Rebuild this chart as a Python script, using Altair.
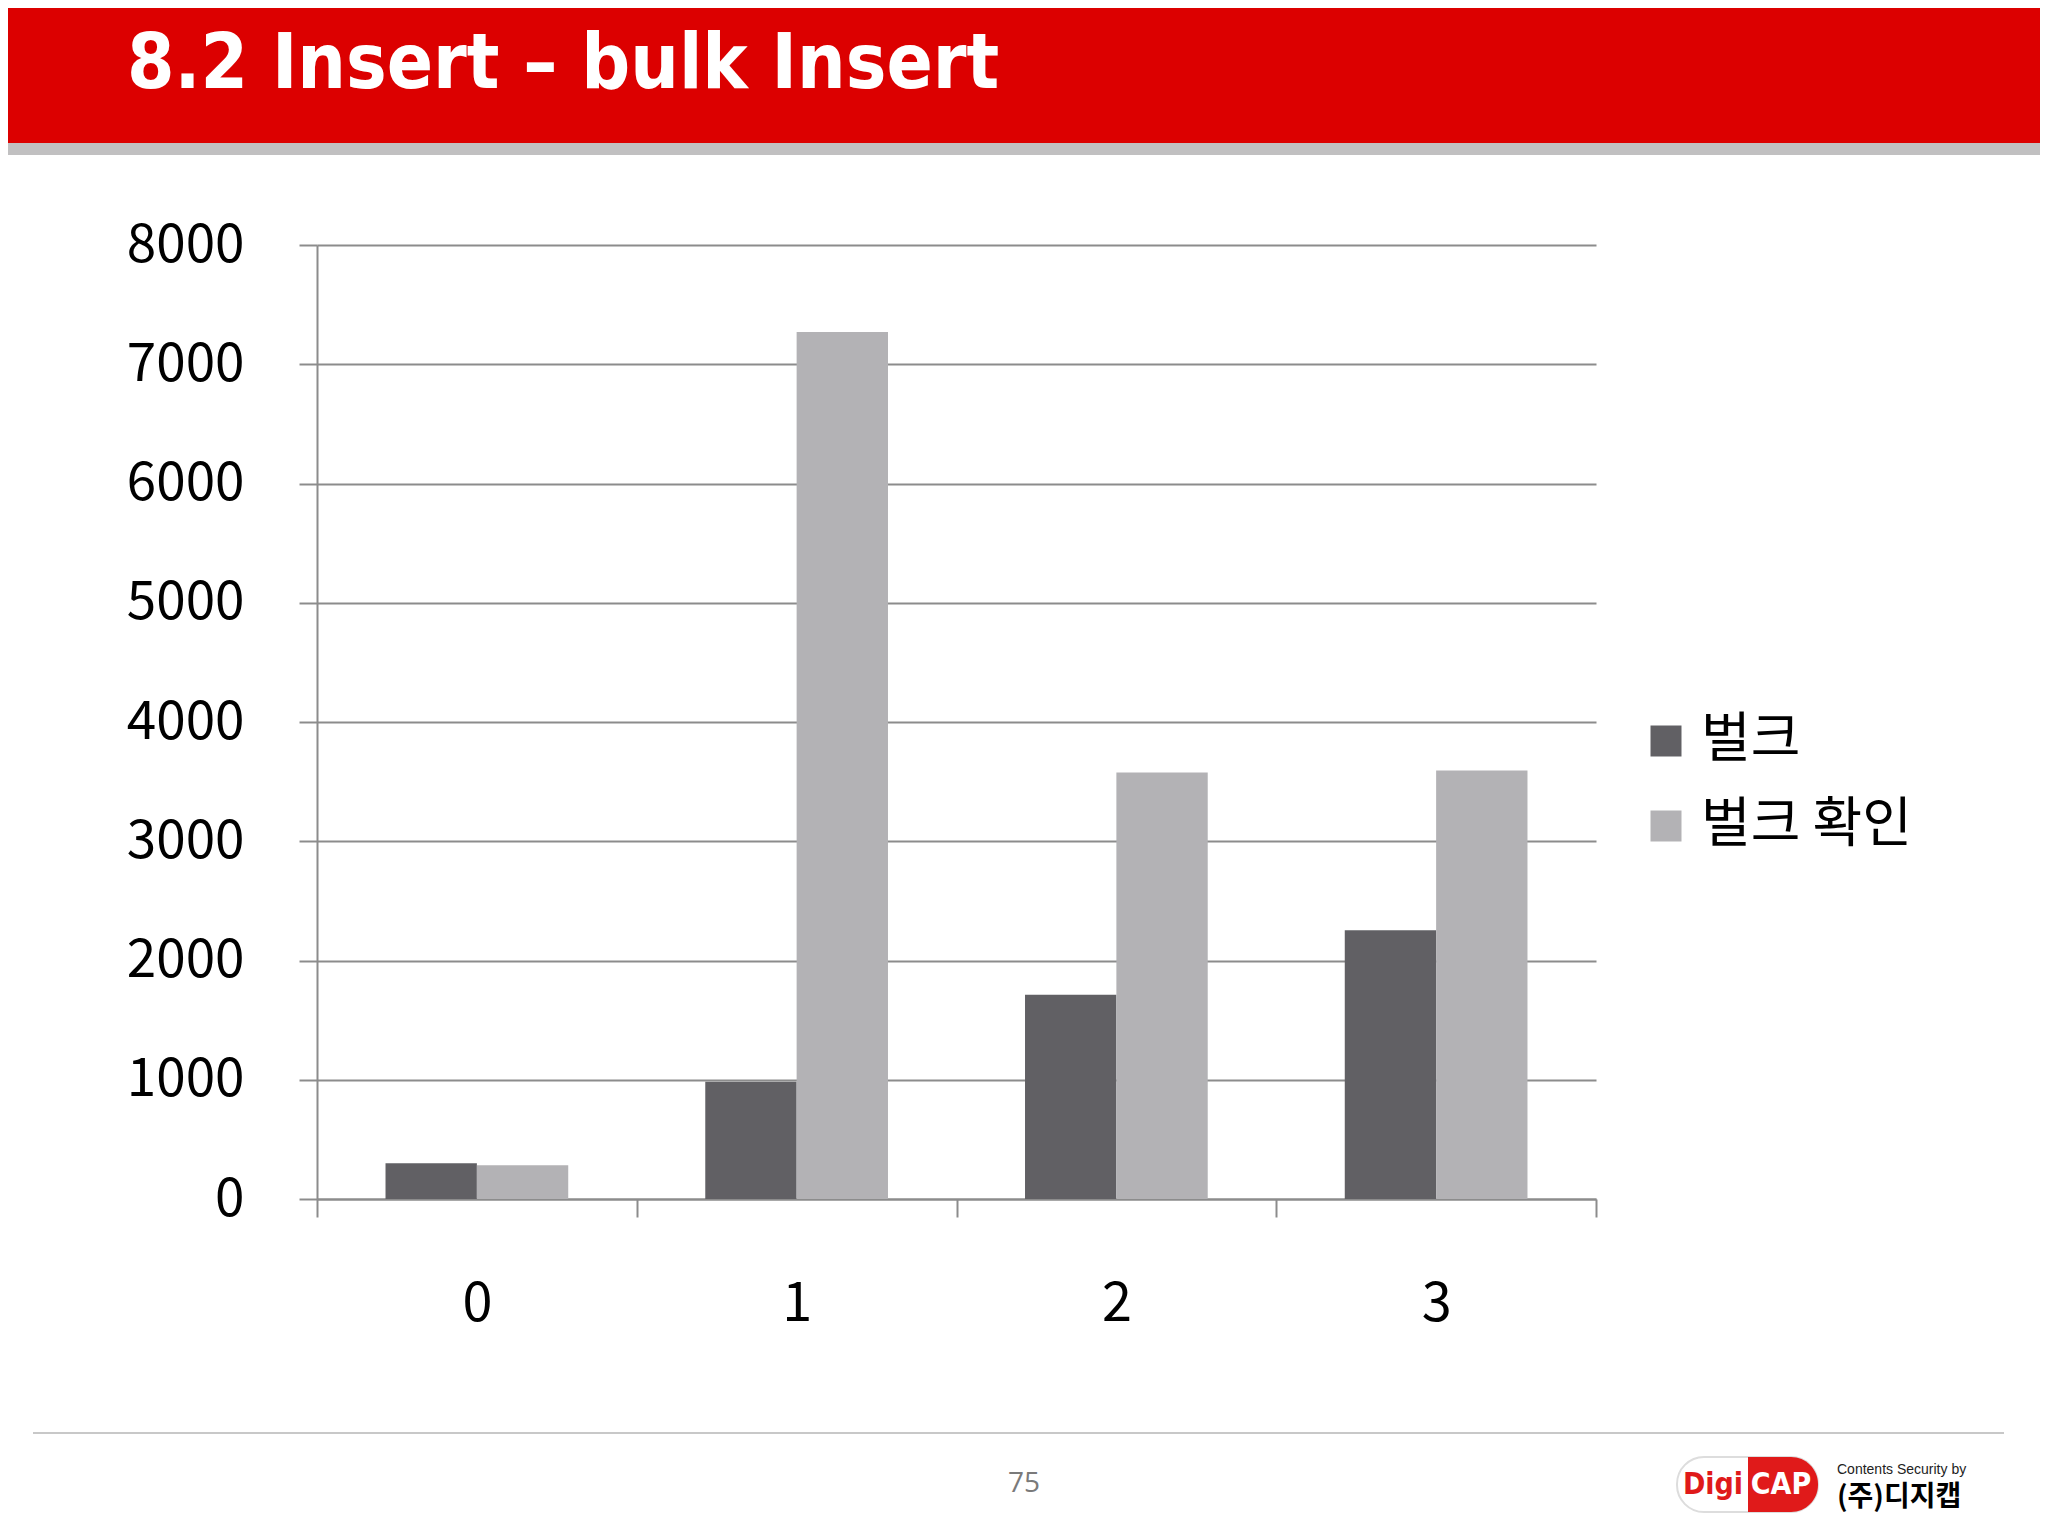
import altair as alt
import pandas as pd

# ---- data ----
categories = ["0", "1", "2", "3"]
series_names = ["벌크", "벌크 확인"]
bulk = [300, 983, 1712, 2253]
bulk_check = [282, 7270, 3576, 3593]
y_ticks = [0, 1000, 2000, 3000, 4000, 5000, 6000, 7000, 8000]
bar_colors = ["#616064", "#b3b2b5"]

title_text = "8.2 Insert – bulk Insert"
page_number = "75"
logo_left = "Digi"
logo_right = "CAP"
logo_caption = "Contents Security by"
logo_company = "(주)디지캡"

rows = []
for i, c in enumerate(categories):
    rows.append({"cat": c, "series": series_names[0], "value": bulk[i]})
    rows.append({"cat": c, "series": series_names[1], "value": bulk_check[i]})
df = pd.DataFrame(rows)
one = pd.DataFrame({"k": [0]})

W, H = 1279, 954
PAD_L, PAD_T, PAD_R, PAD_B = 309, 237, 444, 329
GRID = "#8c8c8c"
FONT = "Noto Sans CJK KR"

bars = alt.Chart(df).mark_bar(strokeWidth=0).encode(
    x=alt.X(
        "cat:N", sort=categories,
        scale=alt.Scale(paddingInner=0, paddingOuter=0),
        axis=alt.Axis(title=None, labelAngle=0, tickBand="extent", grid=False,
                      domainColor=GRID, domainWidth=2, tickColor=GRID, tickWidth=2,
                      tickSize=18, labelFontSize=54, labelFont=FONT, labelColor="black",
                      labelPadding=60),
    ),
    xOffset=alt.XOffset("series:N", sort=series_names,
                        scale=alt.Scale(paddingInner=0, paddingOuter=0.75)),
    y=alt.Y(
        "value:Q",
        scale=alt.Scale(domain=[0, 8000], nice=False),
        axis=alt.Axis(title=None, values=y_ticks, format="d", grid=True,
                      gridColor=GRID, gridWidth=2, domainColor=GRID, domainWidth=2,
                      tickColor=GRID, tickWidth=2, tickSize=18, labelPadding=55,
                      labelFontSize=53, labelFont=FONT, labelColor="black"),
    ),
    color=alt.Color(
        "series:N", sort=series_names,
        scale=alt.Scale(domain=series_names, range=bar_colors),
        legend=alt.Legend(title=None, orient="none", legendX=1322, legendY=469,
                          symbolType="square", symbolSize=961, symbolStrokeWidth=0,
                          symbolOpacity=1, labelFontSize=54, labelFont=FONT,
                          labelColor="black", labelOffset=8, labelLimit=0,
                          rowPadding=31, padding=0),
    ),
)

header = alt.Chart(one).mark_rect(color="#dc0000").encode(
    x=alt.value(-PAD_L), x2=alt.value(W + PAD_R), y=alt.value(-PAD_T), y2=alt.value(-102))
header_band = alt.Chart(one).mark_rect(color="#c1c0c1").encode(
    x=alt.value(-PAD_L), x2=alt.value(W + PAD_R), y=alt.value(-102), y2=alt.value(-90))
title = alt.Chart(one).mark_text(
    text=title_text, font="DejaVu Sans Condensed", fontWeight="bold", fontSize=76,
    color="white", align="left", baseline="alphabetic").encode(
    x=alt.value(-190), y=alt.value(-157))

footer_line = alt.Chart(one).mark_rule(color="#c8c8c8", strokeWidth=2).encode(
    x=alt.value(-284), x2=alt.value(1687), y=alt.value(1188))
page_no = alt.Chart(one).mark_text(
    text=page_number, font="Open Sans", fontSize=28, color="#7a7a7a",
    align="center", baseline="middle").encode(x=alt.value(707), y=alt.value(1239))

pill = alt.Chart(one).mark_rect(cornerRadius=27, fill="white", stroke="#dddddd",
                                strokeWidth=2).encode(
    x=alt.value(1360), x2=alt.value(1501), y=alt.value(1212), y2=alt.value(1267))
pill_red = alt.Chart(one).mark_rect(cornerRadiusTopRight=27, cornerRadiusBottomRight=27,
                                    color="#e01a1a").encode(
    x=alt.value(1431), x2=alt.value(1501), y=alt.value(1212), y2=alt.value(1267))
digi = alt.Chart(one).mark_text(
    text=logo_left, font="DejaVu Sans Condensed", fontWeight="bold", fontSize=30,
    color="#e01a1a", align="center", baseline="middle").encode(
    x=alt.value(1396), y=alt.value(1240))
cap = alt.Chart(one).mark_text(
    text=logo_right, font="DejaVu Sans Condensed", fontWeight="bold", fontSize=30,
    color="white", align="center", baseline="middle").encode(
    x=alt.value(1464), y=alt.value(1240))
caption = alt.Chart(one).mark_text(
    text=logo_caption, font="Liberation Sans", fontSize=14, color="#222222",
    align="left", baseline="middle").encode(x=alt.value(1520), y=alt.value(1225))
company = alt.Chart(one).mark_text(
    text=logo_company, font=FONT, fontWeight="bold", fontSize=28, color="black",
    align="left", baseline="middle").encode(x=alt.value(1520), y=alt.value(1253))

chart = alt.layer(
    header, header_band, title, bars, footer_line, page_no,
    pill, pill_red, digi, cap, caption, company,
).properties(
    width=W, height=H,
    autosize=alt.AutoSizeParams(type="none"),
    padding={"left": PAD_L, "top": PAD_T, "right": PAD_R, "bottom": PAD_B},
    background="white",
).configure_view(stroke=None)

chart.save("out.html", embed_options={"renderer": "svg", "actions": False})
